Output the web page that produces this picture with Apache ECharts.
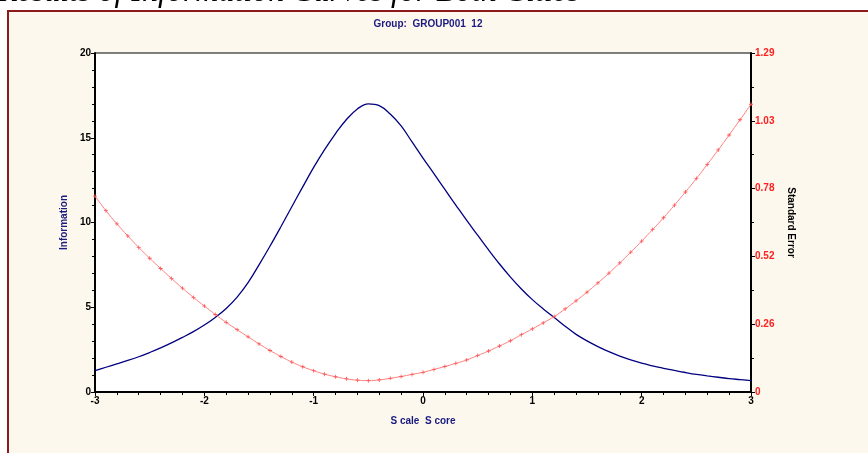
<!DOCTYPE html>
<html>
<head>
<meta charset="utf-8">
<script src="https://cdn.jsdelivr.net/npm/echarts@6/dist/echarts.min.js"></script>
<style>
  html, body { margin: 0; padding: 0; background: #fff; }
  #chart { width: 868px; height: 453px; }
</style>
</head>
<body>
<div id="chart"></div>
<script>
// scale score points, step 0.1 from -3 to 3
const scores = [
  -3.0, -2.9, -2.8, -2.7, -2.6, -2.5, -2.4, -2.3, -2.2, -2.1,
  -2.0, -1.9, -1.8, -1.7, -1.6, -1.5, -1.4, -1.3, -1.2, -1.1,
  -1.0, -0.9, -0.8, -0.7, -0.6, -0.5, -0.4, -0.3, -0.2, -0.1,
  0.0, 0.1, 0.2, 0.3, 0.4, 0.5, 0.6, 0.7, 0.8, 0.9,
  1.0, 1.1, 1.2, 1.3, 1.4, 1.5, 1.6, 1.7, 1.8, 1.9,
  2.0, 2.1, 2.2, 2.3, 2.4, 2.5, 2.6, 2.7, 2.8, 2.9, 3.0
];
const information = [
  1.26, 1.46, 1.66, 1.86, 2.08, 2.33, 2.60, 2.90, 3.22, 3.56,
  3.95, 4.40, 4.93, 5.60, 6.45, 7.50, 8.60, 9.75, 10.93, 12.10,
  13.25, 14.30, 15.25, 16.08, 16.70, 17.00, 16.90, 16.40, 15.70, 14.75,
  13.80, 12.88, 11.95, 11.03, 10.12, 9.25, 8.38, 7.55, 6.78, 6.08,
  5.45, 4.90, 4.40, 3.88, 3.40, 3.02, 2.68, 2.38, 2.12, 1.90,
  1.70, 1.54, 1.40, 1.27, 1.15, 1.04, 0.95, 0.87, 0.79, 0.73, 0.67
];
const stdError = [
  0.745, 0.690, 0.640, 0.594, 0.550, 0.509, 0.470, 0.432, 0.395, 0.360,
  0.327, 0.295, 0.265, 0.237, 0.210, 0.183, 0.158, 0.135, 0.114, 0.096,
  0.081, 0.068, 0.058, 0.050, 0.045, 0.043, 0.046, 0.052, 0.059, 0.067,
  0.075, 0.086, 0.097, 0.109, 0.122, 0.139, 0.156, 0.175, 0.195, 0.218,
  0.240, 0.263, 0.287, 0.316, 0.347, 0.380, 0.415, 0.452, 0.491, 0.532,
  0.574, 0.618, 0.663, 0.711, 0.761, 0.812, 0.866, 0.921, 0.978, 1.036, 1.095
];
const seTickLabels = ['0', '0.26', '0.52', '0.78', '1.03', '1.29'];

const labelFont = 'Liberation Sans Narrow, Liberation Sans, Arial';

let chart = echarts.init(document.getElementById('chart'));

let option = {
  backgroundColor: '#fff',
  animation: false,
  graphic: [
    {
      type: 'rect',
      shape: { x: 8, y: 11, width: 870, height: 450 },
      style: { fill: '#fdf8ed', stroke: '#8b1a1a', lineWidth: 2 },
      z: -10
    },
    {
      type: 'text',
      left: -2,
      top: -23,
      style: {
        text: 'Results of Information Curves for Both Cities',
        font: 'italic 32px "Liberation Serif", "DejaVu Serif", serif',
        fill: '#000'
      }
    }
  ],
  title: {
    text: 'Group:  GROUP001  12',
    left: 423,
    top: 14,
    textAlign: 'center',
    textStyle: { color: '#1a1a80', fontSize: 10, fontWeight: 'bold', fontFamily: labelFont }
  },
  grid: {
    left: 95, right: 117, top: 53, bottom: 61,
    show: true,
    backgroundColor: '#fff',
    borderColor: '#000',
    borderWidth: 1
  },
  xAxis: {
    type: 'value',
    min: -3, max: 3, interval: 1,
    name: 'S cale  S core',
    nameLocation: 'middle',
    nameGap: 24,
    nameTextStyle: { color: '#1a1a80', fontSize: 10, fontWeight: 'bold', fontFamily: labelFont },
    axisLine: { onZero: false, lineStyle: { color: '#000', width: 2 } },
    axisTick: { show: true, length: 4, lineStyle: { color: '#000' } },
    minorTick: { show: true, splitNumber: 5, length: 3, lineStyle: { color: '#000' } },
    splitLine: { show: false },
    axisLabel: { color: '#000', fontSize: 10, fontWeight: 'bold', fontFamily: labelFont, margin: 4 }
  },
  yAxis: [
    {
      type: 'value',
      min: 0, max: 20, interval: 5,
      name: 'Information',
      nameLocation: 'middle',
      nameGap: 23,
      nameTextStyle: { color: '#1a1a80', fontSize: 10, fontWeight: 'bold', fontFamily: labelFont },
      axisLine: { show: true, onZero: false, lineStyle: { color: '#000', width: 2 } },
      axisTick: { show: true, length: 4, lineStyle: { color: '#000' } },
      minorTick: { show: true, splitNumber: 5, length: 3, lineStyle: { color: '#000' } },
      splitLine: { show: false },
      axisLabel: { color: '#000', fontSize: 10, fontWeight: 'bold', fontFamily: labelFont, margin: 4 }
    },
    {
      type: 'value',
      position: 'right',
      min: 0, max: 1.29, interval: 0.258,
      name: 'Standard Error',
      nameLocation: 'middle',
      nameRotate: -90,
      nameGap: 30,
      nameTextStyle: { color: '#000', fontSize: 10, fontWeight: 'bold', fontFamily: labelFont },
      axisLine: { show: true, onZero: false, lineStyle: { color: '#000', width: 2 } },
      axisTick: { show: true, length: 4, lineStyle: { color: '#000' } },
      minorTick: { show: true, splitNumber: 2, length: 3, lineStyle: { color: '#000' } },
      splitLine: { show: false },
      axisLabel: {
        color: '#ff2020', fontSize: 10, fontWeight: 'bold', fontFamily: labelFont, margin: 4,
        formatter: function (v) {
          return seTickLabels[Math.round(v / 0.258)];
        }
      }
    }
  ],
  series: [
    {
      name: 'Information',
      type: 'line',
      yAxisIndex: 0,
      smooth: 0.4,
      showSymbol: false,
      lineStyle: { color: '#000080', width: 1.3 },
      data: scores.map((s, i) => [s, information[i]])
    },
    {
      name: 'Standard Error',
      type: 'line',
      yAxisIndex: 1,
      smooth: 0.4,
      symbol: 'path://M4,0h2v10h-2z M0,4h10v2h-10z',
      symbolSize: 4,
      itemStyle: { color: '#ff5555' },
      lineStyle: { color: '#ff8080', width: 1 },
      data: scores.map((s, i) => [s, stdError[i]])
    }
  ]
};

chart.setOption(option);
</script>
</body>
</html>
